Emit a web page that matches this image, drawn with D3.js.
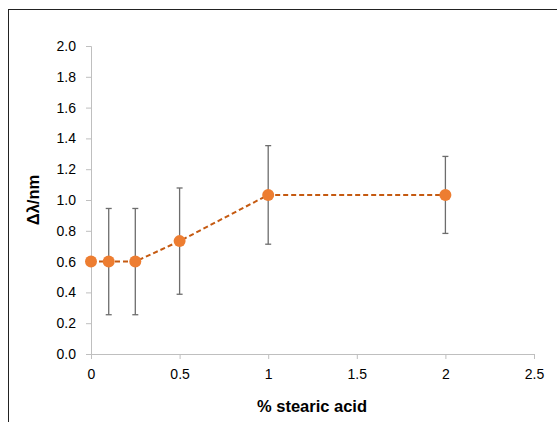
<!DOCTYPE html>
<html>
<head>
<meta charset="utf-8">
<script src="https://cdn.jsdelivr.net/npm/d3@7"></script>
<style>
  html, body { margin: 0; padding: 0; background: #fff; }
  svg { display: block; }
</style>
</head>
<body>
<svg id="chart" width="557" height="422"></svg>
<script>
// Stearic acid concentration (%) and measured wavelength shift
const stearicPct = [0, 0.1, 0.25, 0.5, 1, 2];
const shiftNm = [0.6, 0.6, 0.6, 0.733, 1.033, 1.033];
const shiftErr = [0, 0.345, 0.345, 0.345, 0.32, 0.25];
const xTicks = [0, 0.5, 1, 1.5, 2, 2.5];
const yTicks = [0, 0.2, 0.4, 0.6, 0.8, 1.0, 1.2, 1.4, 1.6, 1.8, 2.0];

const svg = d3.select("#chart");

// outer chart frame (runs off the right and bottom edges)
svg.append("rect")
  .attr("x", 8.5).attr("y", 9.5)
  .attr("width", 600).attr("height", 500)
  .attr("fill", "none").attr("stroke", "#222").attr("stroke-width", 1);

const x = d3.scaleLinear().domain([0, 2.5]).range([91, 534]);
const y = d3.scaleLinear().domain([0, 2]).range([354, 46]);

const tickFont = "'Liberation Sans', Arial, sans-serif";

// y axis
const yAxis = svg.append("g")
  .attr("transform", `translate(${x(0)},0)`)
  .call(d3.axisLeft(y).tickValues(yTicks).tickSizeOuter(0).tickSize(5).tickPadding(10)
    .tickFormat(d3.format(".1f")));
yAxis.select(".domain").attr("stroke", "#bfbfbf");
yAxis.selectAll(".tick line").attr("stroke", "#bfbfbf");
yAxis.selectAll(".tick text").attr("fill", "#000").style("font", `14px ${tickFont}`);

// x axis
const xAxis = svg.append("g")
  .attr("transform", `translate(0,${y(0)})`)
  .call(d3.axisBottom(x).tickValues(xTicks).tickSizeOuter(0).tickSize(5).tickPadding(10)
    .tickFormat(d3.format("")));
xAxis.select(".domain").attr("stroke", "#bfbfbf");
xAxis.selectAll(".tick line").attr("stroke", "#bfbfbf");
xAxis.selectAll(".tick text").attr("fill", "#000").style("font", `14px ${tickFont}`);

// axis titles
const titleFont = "bold 16.5px 'Liberation Sans', Arial, sans-serif";
svg.append("text")
  .attr("x", 312).attr("y", 412)
  .attr("text-anchor", "middle")
  .style("font", titleFont)
  .text("% stearic acid");

svg.append("text")
  .attr("transform", `translate(39,${y(1)}) rotate(-90)`)
  .attr("text-anchor", "middle")
  .style("font", titleFont)
  .text("Δλ/nm");

const data = stearicPct.map((p, i) => ({ p, v: shiftNm[i], e: shiftErr[i] }));

// error bars
const eb = svg.append("g").attr("stroke", "#6d6d6d").attr("stroke-width", 1.3);
data.filter(d => d.e > 0).forEach(d => {
  eb.append("line")
    .attr("x1", x(d.p)).attr("x2", x(d.p))
    .attr("y1", y(d.v - d.e)).attr("y2", y(d.v + d.e));
  [d.v - d.e, d.v + d.e].forEach(val => {
    eb.append("line")
      .attr("x1", x(d.p) - 3).attr("x2", x(d.p) + 3)
      .attr("y1", y(val)).attr("y2", y(val));
  });
});

// dashed connecting line
svg.append("path")
  .datum(data)
  .attr("fill", "none")
  .attr("stroke", "#c55a11")
  .attr("stroke-width", 2)
  .attr("stroke-dasharray", "5,3")
  .attr("d", d3.line().x(d => x(d.p)).y(d => y(d.v)));

// markers
svg.append("g").selectAll("circle")
  .data(data)
  .join("circle")
  .attr("cx", d => x(d.p))
  .attr("cy", d => y(d.v))
  .attr("r", 6)
  .attr("fill", "#ed7d31");
</script>
</body>
</html>
